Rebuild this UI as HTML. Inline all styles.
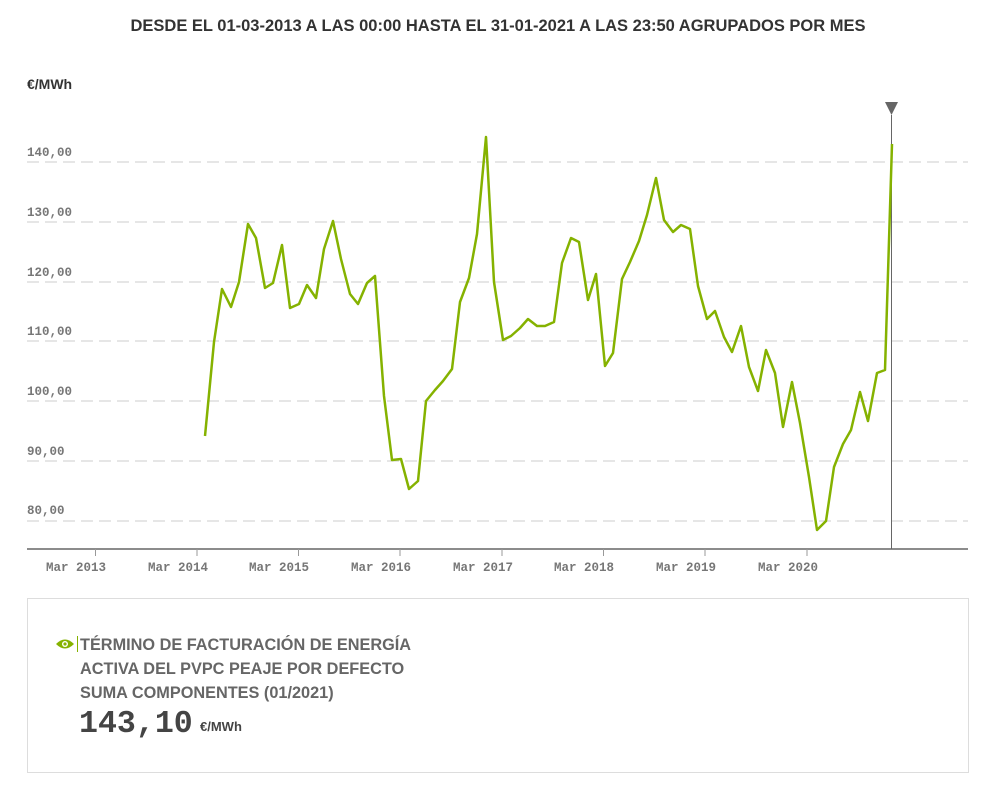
<!DOCTYPE html>
<html><head><meta charset="utf-8"><style>
body{margin:0;background:#fff;width:1004px;height:792px;overflow:hidden;font-family:"Liberation Sans",sans-serif;}
</style></head><body>
<svg width="1004" height="792" xmlns="http://www.w3.org/2000/svg" style="position:absolute;left:0;top:0">
<text x="498" y="31" text-anchor="middle" font-family="Liberation Sans" font-weight="bold" font-size="16.5" fill="#333" textLength="735" lengthAdjust="spacingAndGlyphs">DESDE EL 01-03-2013 A LAS 00:00 HASTA EL 31-01-2021 A LAS 23:50 AGRUPADOS POR MES</text>
<text x="27" y="89" font-family="Liberation Sans" font-weight="bold" font-size="14" fill="#333">€/MWh</text>
<g stroke="#d8d8d8" stroke-width="1.3" stroke-dasharray="12,6">
<line x1="27" x2="968" y1="162" y2="162"/><line x1="27" x2="968" y1="222" y2="222"/><line x1="27" x2="968" y1="282" y2="282"/><line x1="27" x2="968" y1="341" y2="341"/><line x1="27" x2="968" y1="401" y2="401"/><line x1="27" x2="968" y1="461" y2="461"/><line x1="27" x2="968" y1="521" y2="521"/>
</g>
<g font-family="Liberation Mono" font-weight="bold" font-size="12.5" fill="#777">
<text x="27" y="156">140,00</text><text x="27" y="216">130,00</text><text x="27" y="276">120,00</text><text x="27" y="335">110,00</text><text x="27" y="395">100,00</text><text x="27" y="455">90,00</text><text x="27" y="514">80,00</text>
</g>
<line x1="27" x2="968" y1="549" y2="549" stroke="#666" stroke-width="1.5"/>
<g stroke="#999" stroke-width="1"><line x1="95.5" x2="95.5" y1="549" y2="556"/><line x1="197" x2="197" y1="549" y2="556"/><line x1="298.5" x2="298.5" y1="549" y2="556"/><line x1="400" x2="400" y1="549" y2="556"/><line x1="502" x2="502" y1="549" y2="556"/><line x1="603.5" x2="603.5" y1="549" y2="556"/><line x1="705" x2="705" y1="549" y2="556"/><line x1="807" x2="807" y1="549" y2="556"/></g>
<g font-family="Liberation Mono" font-weight="bold" font-size="12.5" fill="#777" text-anchor="end">
<text x="106" y="571">Mar 2013</text><text x="208" y="571">Mar 2014</text><text x="309" y="571">Mar 2015</text><text x="411" y="571">Mar 2016</text><text x="513" y="571">Mar 2017</text><text x="614" y="571">Mar 2018</text><text x="716" y="571">Mar 2019</text><text x="818" y="571">Mar 2020</text>
</g>
<line x1="891.5" x2="891.5" y1="115" y2="549" stroke="#666" stroke-width="1"/>
<polygon points="885,102 898,102 891.5,115" fill="#666"/>
<polyline fill="none" stroke="#85b200" stroke-width="2.5" stroke-linejoin="round" points="205,436 214,342 222,289 231,307 239,282 248,224 256,238 265,288 273,283 282,245 290,308 299,304 307,285 316,298 324,249 333,221 341,259 350,294 358,304 367,283 375,276 384,396 392,460 401,459 409,489 418,481 426,401 435,390 443,381 452,369 460,302 469,278 477,234 486,137 494,282 503,340 511,336 520,328 528,319 537,326 545,326 554,322 562,263 571,238 579,242 588,300 596,274 605,366 613,353 622,279 630,262 639,241 647,215 656,178 664,220 673,232 681,225 690,229 698,286 707,319 715,311 724,337 732,352 741,326 749,367 758,391 766,350 775,373 783,427 792,382 800,423 809,477 817,530 826,521 834,467 843,444 851,430 860,392 868,421 877,373 885,370 892,144"/>
<rect x="27.5" y="598.5" width="941" height="174" fill="none" stroke="#ddd" stroke-width="1"/>
<path d="M56,644 Q65,635 74,644 Q65,653 56,644 Z" fill="#85b200"/>
<circle cx="65" cy="644" r="3" fill="#fff"/><circle cx="65" cy="644" r="1.6" fill="#85b200"/>
<line x1="77.5" x2="77.5" y1="636" y2="652" stroke="#85b200" stroke-width="1"/>
<g font-family="Liberation Sans" font-weight="bold" font-size="16.3" fill="#666">
<text x="80" y="650">TÉRMINO DE FACTURACIÓN DE ENERGÍA</text>
<text x="80" y="674">ACTIVA DEL PVPC PEAJE POR DEFECTO</text>
<text x="80" y="698">SUMA COMPONENTES (01/2021)</text>
</g>
<text x="79" y="732" font-family="Liberation Mono" font-weight="bold" font-size="31.6" fill="#444">143,10</text>
<text x="200" y="731" font-family="Liberation Sans" font-weight="bold" font-size="13" fill="#444">€/MWh</text>
</svg>
</body></html>
